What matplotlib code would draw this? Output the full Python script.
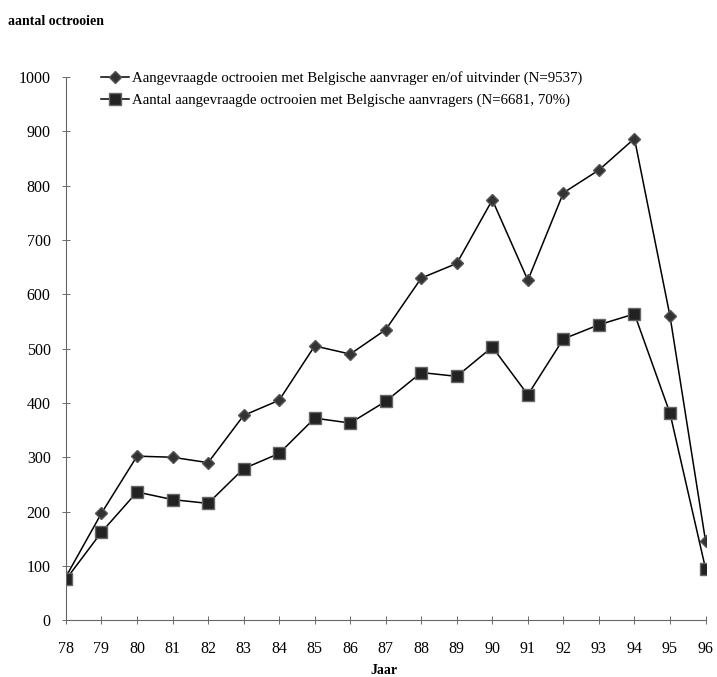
import matplotlib
matplotlib.use("Agg")
import matplotlib.pyplot as plt

years = [78, 79, 80, 81, 82, 83, 84, 85, 86, 87, 88, 89, 90, 91, 92, 93, 94, 95, 96]
year_labels = [str(y) for y in years]
totaal = [80, 197, 302, 300, 290, 377, 405, 505, 490, 535, 630, 657, 774, 626, 787, 829, 887, 560, 146]
aanvragers = [75, 162, 236, 222, 215, 279, 307, 372, 363, 403, 456, 449, 503, 415, 518, 544, 564, 381, 95]
yticks = list(range(0, 1001, 100))

label1 = "Aangevraagde octrooien met Belgische aanvrager en/of uitvinder (N=9537)"
label2 = "Aantal aangevraagde octrooien met Belgische aanvragers (N=6681, 70%)"

plt.rcParams['font.family'] = ['Liberation Serif', 'DejaVu Serif']

fig = plt.figure(figsize=(7.17, 6.77), dpi=100)
ax = fig.add_axes([0.092, 0.084, 0.892, 0.802])

ax.plot(years, totaal, color='black', lw=1.1, marker='D', markersize=6,
        markerfacecolor='#333333', markeredgecolor='#555555', label=label1)
ax.plot(years, aanvragers, color='black', lw=1.1, marker='s', markersize=8,
        markerfacecolor='#222222', markeredgecolor='#666666', label=label2)

ax.set_xlim(78, 96)
ax.set_ylim(0, 1000)
ax.set_xticks(years)
ax.set_xticklabels(year_labels)
ax.set_yticks(yticks)
ax.tick_params(axis='both', direction='inout', length=6, width=0.6, color='#555555',
               labelsize=11.5)
ax.tick_params(axis='x', pad=12)
ax.tick_params(axis='y', pad=8)

for s in ['top', 'right']:
    ax.spines[s].set_visible(False)
for s in ['left', 'bottom']:
    ax.spines[s].set_color('#666666')
    ax.spines[s].set_linewidth(0.8)
    ax.spines[s].set_linestyle((0, (2, 1)))

leg = ax.legend(loc='upper left', bbox_to_anchor=(0.045, 1.022), frameon=False,
                fontsize=10.7, handlelength=1.9, handletextpad=0.2, labelspacing=0.55,
                borderaxespad=0)

fig.text(0.011, 0.968, "aantal octrooien", fontsize=10, fontweight='bold', ha='left', va='center')
fig.text(0.535, 0.0, "Jaar", fontsize=10, fontweight='bold', ha='center', va='bottom')

fig.savefig("out.png", dpi=100)
